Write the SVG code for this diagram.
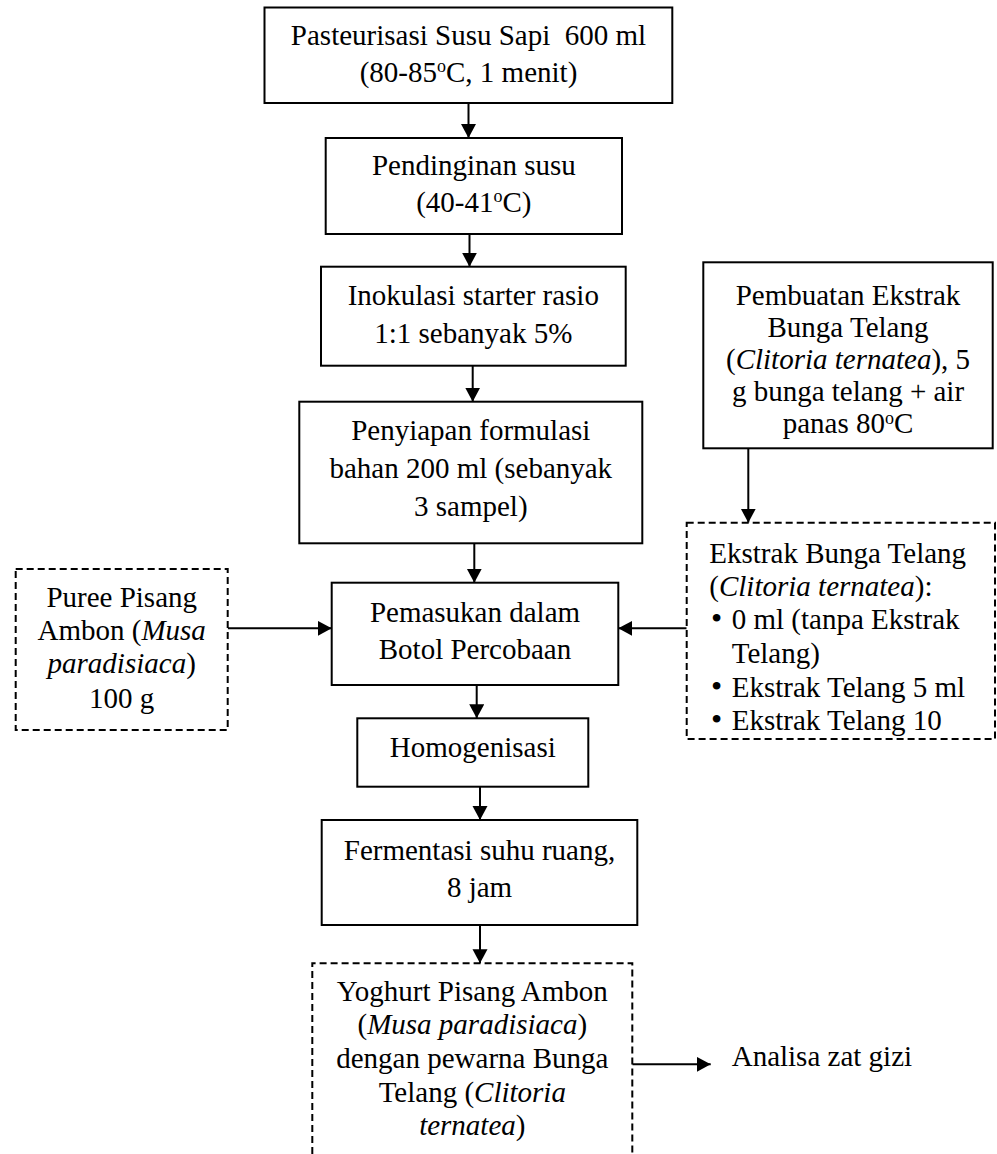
<svg xmlns="http://www.w3.org/2000/svg" width="997" height="1154" viewBox="0 0 997 1154">
<style>
.box{fill:#fff;stroke:#000;stroke-width:2}
.dash{fill:#fff;stroke:#000;stroke-width:2;stroke-dasharray:7 4}
.t{font-family:"Liberation Serif","Times New Roman",serif;font-size:29px;fill:#000;text-anchor:middle}
.l{font-family:"Liberation Serif","Times New Roman",serif;font-size:29px;fill:#000}
.i{font-style:italic}
.sup{font-size:18px}
.b{font-size:32px}
.c{stroke:#000;stroke-width:2;fill:none;marker-end:url(#ah)}
</style>
<defs>
<marker id="ah" markerUnits="userSpaceOnUse" markerWidth="16" markerHeight="16" refX="14" refY="7.5" orient="auto">
<path d="M0,0 L14,7.5 L0,15 z" fill="#000"/>
</marker>
</defs>
<rect width="997" height="1154" fill="#fff"/>
<g id="connectors">
<line class="c" x1="468.5" y1="103" x2="468.5" y2="138"/>
<line class="c" x1="469.5" y1="234" x2="469.5" y2="266.7"/>
<line class="c" x1="472.7" y1="365.7" x2="472.7" y2="401.7"/>
<line class="c" x1="474.3" y1="543.3" x2="474.3" y2="582.7"/>
<line class="c" x1="227.7" y1="628.3" x2="331.7" y2="628.3"/>
<line class="c" x1="686.7" y1="628.3" x2="618.3" y2="628.3"/>
<line class="c" x1="748.3" y1="448.3" x2="748.3" y2="522.7"/>
<line class="c" x1="476.7" y1="685" x2="476.7" y2="718.3"/>
<line class="c" x1="480" y1="786.7" x2="480" y2="820"/>
<line class="c" x1="480" y1="925" x2="480" y2="963.3"/>
<line class="c" x1="632.3" y1="1064.3" x2="710.7" y2="1064.3"/>
</g>
<g id="n1">
<rect class="box" x="264.5" y="7.5" width="407.8" height="95.5"/>
<text class="t" x="468.5" y="45" style="white-space:pre">Pasteurisasi Susu Sapi  600 ml</text>
<text class="t" x="468.5" y="81.7">(80-85<tspan class="sup" dy="-10">o</tspan><tspan dy="10">C, 1 menit)</tspan></text>
</g>
<g id="n2">
<rect class="box" x="325.7" y="138" width="296.3" height="96"/>
<text class="t" x="473.8" y="175">Pendinginan susu</text>
<text class="t" x="473.8" y="212">(40-41<tspan class="sup" dy="-10">o</tspan><tspan dy="10">C)</tspan></text>
</g>
<g id="n3">
<rect class="box" x="321" y="266.7" width="304.7" height="99"/>
<text class="t" x="473.3" y="305">Inokulasi starter rasio</text>
<text class="t" x="473.3" y="342.7">1:1 sebanyak 5%</text>
</g>
<g id="n4">
<rect class="box" x="299.3" y="401.7" width="343" height="141.6"/>
<text class="t" x="470.8" y="440">Penyiapan formulasi</text>
<text class="t" x="470.8" y="478.3">bahan 200 ml (sebanyak</text>
<text class="t" x="470.8" y="516">3 sampel)</text>
</g>
<g id="n5">
<rect class="box" x="703.3" y="262.3" width="289.4" height="186"/>
<text class="t" x="848" y="305">Pembuatan Ekstrak</text>
<text class="t" x="848" y="337">Bunga Telang</text>
<text class="t" x="848" y="369">(<tspan class="i">Clitoria ternatea</tspan>), 5</text>
<text class="t" x="848" y="401">g bunga telang + air</text>
<text class="t" x="848" y="433">panas 80<tspan class="sup" dy="-9">o</tspan><tspan dy="9">C</tspan></text>
</g>
<g id="n6">
<rect class="dash" x="686.7" y="522.7" width="308.3" height="216.3"/>
<text class="l" x="709.3" y="563.3">Ekstrak Bunga Telang</text>
<text class="l" x="709.3" y="596">(<tspan class="i">Clitoria ternatea</tspan>):</text>
<text class="l" x="711" y="629"><tspan class="b">•</tspan><tspan x="731.7">0 ml (tanpa Ekstrak</tspan></text>
<text class="l" x="731.7" y="663">Telang)</text>
<text class="l" x="711" y="697"><tspan class="b">•</tspan><tspan x="731.7">Ekstrak Telang 5 ml</tspan></text>
<text class="l" x="711" y="730"><tspan class="b">•</tspan><tspan x="731.7">Ekstrak Telang 10</tspan></text>
</g>
<g id="n7">
<rect class="dash" x="15.7" y="569" width="212" height="161"/>
<text class="t" x="121.7" y="606.7">Puree Pisang</text>
<text class="t" x="121.7" y="640">Ambon (<tspan class="i">Musa</tspan></text>
<text class="t" x="121.7" y="673.3"><tspan class="i">paradisiaca</tspan>)</text>
<text class="t" x="121.7" y="708">100 g</text>
</g>
<g id="n8">
<rect class="box" x="331.7" y="582.7" width="286.6" height="102.3"/>
<text class="t" x="475" y="621.7">Pemasukan dalam</text>
<text class="t" x="475" y="659.3">Botol Percobaan</text>
</g>
<g id="n9">
<rect class="box" x="357.3" y="718.3" width="231" height="68.4"/>
<text class="t" x="472.8" y="756.7">Homogenisasi</text>
</g>
<g id="n10">
<rect class="box" x="321.7" y="820" width="315.6" height="105"/>
<text class="t" x="479.5" y="860">Fermentasi suhu ruang,</text>
<text class="t" x="479.5" y="897">8 jam</text>
</g>
<g id="n11">
<path class="dash" d="M312.3,1154 V963.3 H632.3 V1154" fill="none"/>
<text class="t" x="472.3" y="1000.7">Yoghurt Pisang Ambon</text>
<text class="t" x="472.3" y="1034">(<tspan class="i">Musa paradisiaca</tspan>)</text>
<text class="t" x="472.3" y="1068.3">dengan pewarna Bunga</text>
<text class="t" x="472.3" y="1101.7">Telang (<tspan class="i">Clitoria</tspan></text>
<text class="t" x="472.3" y="1135"><tspan class="i">ternatea</tspan>)</text>
</g>
<g id="n12">
<text class="l" x="731.7" y="1066">Analisa zat gizi</text>
</g>
</svg>
